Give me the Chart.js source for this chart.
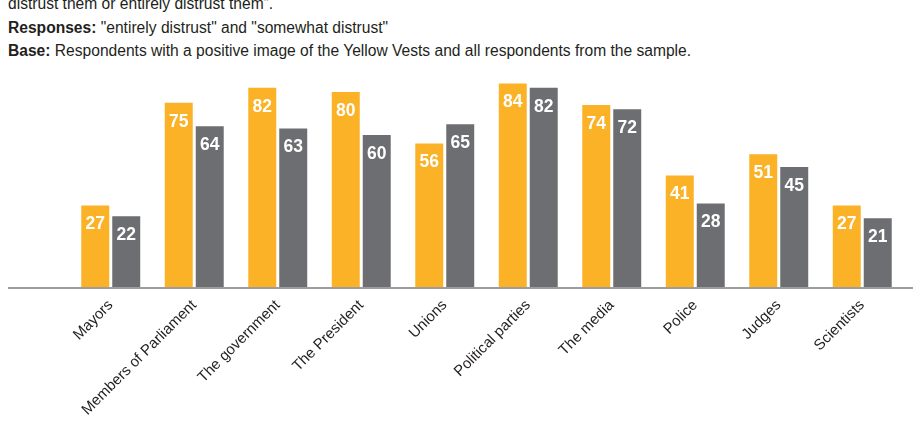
<!DOCTYPE html>
<html>
<head>
<meta charset="utf-8">
<script src="https://cdn.jsdelivr.net/npm/chart.js@4.4.1/dist/chart.umd.min.js"></script>
<style>
  html, body { margin: 0; padding: 0; background: #fff; }
  body { width: 920px; height: 425px; position: relative; overflow: hidden; }
  .note {
    position: absolute; left: 8px; white-space: nowrap;
    font-family: "Liberation Sans Narrow", "Arial Narrow", "Liberation Sans", sans-serif;
    font-size: 15.6px; line-height: 16px; color: #231f20;
  }
  .note b { font-weight: bold; }
  #wrap { position: absolute; left: 0; top: 0; width: 920px; height: 425px; }
</style>
</head>
<body>
<div class="note" style="top:-4px">distrust them or entirely distrust them”.</div>
<div class="note" style="top:20px"><b>Responses:</b> "entirely distrust" and "somewhat distrust"</div>
<div class="note" style="top:43px"><b>Base:</b> Respondents with a positive image of the Yellow Vests and all respondents from the sample.</div>
<div id="wrap"><canvas id="chart"></canvas></div>
<script>
const categories = ["Mayors", "Members of Parliament", "The government", "The President", "Unions",
  "Political parties", "The media", "Police", "Judges", "Scientists"];
const yellowVests = [27, 75, 82, 80, 56, 84, 74, 41, 51, 27];
const allRespondents = [22, 64, 63, 60, 65, 82, 72, 28, 45, 21];

const YELLOW = "#fbb226";
const GREY = "#6d6e71";
const TEXT = "#231f20";
const FONT = '"Liberation Sans Narrow", "Arial Narrow", "Liberation Sans", sans-serif';

// bars in the original start a bit below zero
const BAR_BASE = -11.3;

// white value labels inside the top of each bar
const valueLabels = {
  id: "valueLabels",
  afterDatasetsDraw(chart) {
    const ctx = chart.ctx;
    ctx.save();
    ctx.fillStyle = "#fff";
    ctx.font = "bold 17.5px " + FONT;
    ctx.textAlign = "center";
    ctx.textBaseline = "middle";
    chart.data.datasets.forEach((ds, i) => {
      chart.getDatasetMeta(i).data.forEach((bar, j) => {
        ctx.fillText(ds.data[j], bar.x, bar.y + 19);
      });
    });
    ctx.restore();
  }
};

// grey baseline, runs wider than the bars
const baseLine = {
  id: "baseLine",
  afterDatasetsDraw(chart) {
    const { ctx, chartArea } = chart;
    ctx.save();
    ctx.strokeStyle = "#9d9d9d";
    ctx.lineWidth = 2;
    ctx.beginPath();
    ctx.moveTo(chartArea.left - 61, chartArea.bottom + 0.5);
    ctx.lineTo(chartArea.right + 9, chartArea.bottom + 0.5);
    ctx.stroke();
    ctx.restore();
  }
};

const chart = new Chart(document.getElementById("chart"), {
  type: "bar",
  data: {
    labels: categories,
    datasets: [
      { label: "Positive image of the Yellow Vests", data: yellowVests, backgroundColor: YELLOW },
      { label: "All respondents", data: allRespondents, backgroundColor: GREY }
    ]
  },
  options: {
    responsive: true,
    maintainAspectRatio: false,
    animation: false,
    datasets: { bar: { base: BAR_BASE, categoryPercentage: 0.742, barPercentage: 0.903 } },
    layout: { padding: { left: 69, right: 16, top: 60, bottom: 0 } },
    plugins: { legend: { display: false }, tooltip: { enabled: false } },
    scales: {
      y: { display: false, min: BAR_BASE, max: 95 },
      x: {
        grid: { display: false, drawTicks: false },
        border: { display: false },
        ticks: {
          color: TEXT,
          font: { family: FONT, size: 15 },
          minRotation: 45, maxRotation: 45,
          padding: 9
        },
        afterFit(scale) { scale.height = 137.5; }
      }
    }
  },
  plugins: [valueLabels, baseLine]
});
</script>
</body>
</html>
